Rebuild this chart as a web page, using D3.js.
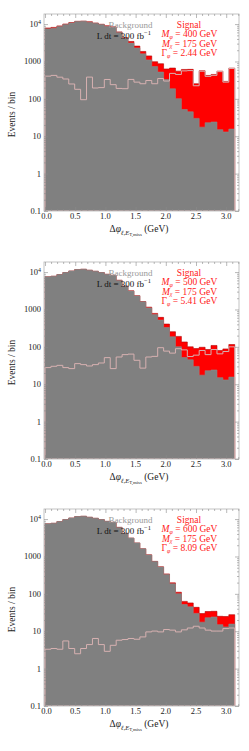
<!DOCTYPE html>
<html><head><meta charset="utf-8">
<script src="https://cdn.jsdelivr.net/npm/d3@7"></script>
<style>body{margin:0;background:#fff}svg{display:block}</style>
</head><body>
<script>
// ---- data (32 bins over 0..pi) ----
const background = [7450, 7730, 8580, 9700, 10700, 11700, 11900, 11200, 10500, 9700, 8700, 8200,
  6000, 4150, 3100, 2300, 1600, 1100, 730, 520, 330, 186, 101, 52, 45, 30, 17.5, 23, 24, 15, 13, 15.5];
const signal400 = [405, 424, 380, 340, 250, 180, 95, 382, 195, 200, 330, 240, 190, 187, 331, 280,
  254, 310, 254, 350, 300, 480, 450, 560, 570, 224, 548, 400, 426, 535, 280, 648];
const signal500 = [27.9, 30.2, 32, 27.9, 26.2, 35.6, 33.5, 30.8, 33.5, 37, 51.5, 26.2, 53.5, 62, 64, 43.7,
  27, 53.5, 55.6, 95, 77, 68, 89.5, 83, 55, 60, 80, 62, 85, 65, 75, 100];
const signal600 = [3.3, 3.45, 3.3, 5.5, 3.45, 2.5, 3.45, 4.4, 6.4, 4.4, 2.9, 4.2, 5.75, 6.0, 6.4, 6.1,
  7.05, 9.6, 10.1, 9.6, 11.1, 10.7, 9.6, 10.9, 12.2, 13.6, 12.2, 10.7, 10.1, 10.1, 11.8, 12.2];
const signals = [signal400, signal500, signal600];
const massPhi = ["400", "500", "600"];
const massChi = ["175", "175", "175"];
const widthPhi = ["2.44", "5.41", "8.09"];
const xTickValues = [0, 0.5, 1, 1.5, 2, 2.5, 3];
const xTickLabels = ["0.0", "0.5", "1.0", "1.5", "2.0", "2.5", "3.0"];
const yTickValues = [0.1, 1, 10, 100, 1000, 10000];
const yTickLabels = ["0.1", "1", "10", "100", "1000", "10^4"];

// ---- layout ----
const W = 249, H = 751;
const offsets = [0, 248, 495];
const L = 44, R = 239, T = 14, B = 211;
const serif = "'Liberation Serif','Times New Roman',serif";
const nBins = background.length;
const edges = d3.range(nBins + 1).map(i => i * Math.PI / nBins);

const svg = d3.select("body").append("svg").attr("width", W).attr("height", H)
  .style("font-family", serif);

const x = d3.scaleLinear().domain([-0.017, 3.212]).range([L, R]);
const y = d3.scaleLog().domain([0.1, Math.pow(10, 4.27)]).range([B, T]);

const minorY = [];
yTickValues.forEach(d => { for (let k = 2; k <= 9; k++) { const v = d * k; if (v < y.domain()[1]) minorY.push(v); } });
const minorX = d3.range(0, 33).map(i => i / 10).filter(v => Math.abs(v * 2 - Math.round(v * 2)) > 1e-6 && v <= 3.2);

function stepArea(vals) {
  const pts = vals.map((v, i) => [edges[i], v]);
  pts.push([edges[nBins], vals[nBins - 1]]);
  return d3.area().curve(d3.curveStepAfter).x(d => x(d[0])).y0(y(0.1)).y1(d => y(d[1]))(pts);
}
function stepOutline(vals) {
  const pts = [[0, 0.1]];
  vals.forEach((v, i) => pts.push([edges[i], v]));
  pts.push([edges[nBins], vals[nBins - 1]]);
  pts.push([edges[nBins], 0.1]);
  pts.push([0, 0.1]);
  return d3.line().curve(d3.curveStepAfter).x(d => x(d[0])).y(d => y(d[1]))(pts);
}

offsets.forEach((oy, p) => {
  const sig = signals[p];
  const total = background.map((b, i) => b + sig[i]);
  const g = svg.append("g").attr("transform", `translate(0,${oy})`);
  const clipId = "clip" + p;
  g.append("clipPath").attr("id", clipId).append("rect")
    .attr("x", L).attr("y", T).attr("width", R - L).attr("height", B - T);
  const pg = g.append("g").attr("clip-path", `url(#${clipId})`);

  pg.append("path").attr("d", stepArea(total)).attr("fill", "#ff0000")
    .attr("stroke", "#b00000").attr("stroke-width", 0.6);
  pg.append("path").attr("d", stepArea(background)).attr("fill", "#808080")
    .attr("stroke", "#8c8c8c").attr("stroke-width", 0.6);
  pg.append("path").attr("d", stepOutline(sig)).attr("fill", "none")
    .attr("stroke", "#d6b0b0").attr("stroke-width", 1);

  // frame
  g.append("rect").attr("x", L).attr("y", T).attr("width", R - L).attr("height", B - T)
    .attr("fill", "none").attr("stroke", "#b4b4b4").attr("stroke-width", 0.8);

  // ticks (inward) via d3 axes
  const tickStyle = sel => { sel.select(".domain").remove(); sel.selectAll("line").attr("stroke", "#8a8a8a").attr("stroke-width", 0.6); sel.selectAll("text").remove(); };
  g.append("g").attr("transform", `translate(${L},0)`).call(d3.axisRight(y).tickValues(yTickValues).tickSize(4)).call(tickStyle);
  g.append("g").attr("transform", `translate(${L},0)`).call(d3.axisRight(y).tickValues(minorY).tickSize(2)).call(tickStyle);
  g.append("g").attr("transform", `translate(${R},0)`).call(d3.axisLeft(y).tickValues(yTickValues).tickSize(4)).call(tickStyle);
  g.append("g").attr("transform", `translate(${R},0)`).call(d3.axisLeft(y).tickValues(minorY).tickSize(2)).call(tickStyle);
  g.append("g").attr("transform", `translate(0,${B})`).call(d3.axisTop(x).tickValues(xTickValues).tickSize(4)).call(tickStyle);
  g.append("g").attr("transform", `translate(0,${B})`).call(d3.axisTop(x).tickValues(minorX).tickSize(2)).call(tickStyle);
  g.append("g").attr("transform", `translate(0,${T})`).call(d3.axisBottom(x).tickValues(xTickValues).tickSize(4)).call(tickStyle);
  g.append("g").attr("transform", `translate(0,${T})`).call(d3.axisBottom(x).tickValues(minorX).tickSize(2)).call(tickStyle);

  // y tick labels
  yTickValues.forEach((v, i) => {
    const t = g.append("text").attr("x", L - 3).attr("y", y(v) + 3).attr("text-anchor", "end")
      .attr("font-size", 8.5).attr("fill", "#222");
    const lab = yTickLabels[i];
    if (lab.includes("^")) {
      const [b, e] = lab.split("^");
      t.append("tspan").text(b);
      t.append("tspan").attr("dy", -3.5).attr("font-size", 6).text(e);
    } else t.text(lab);
  });
  // x tick labels
  xTickValues.forEach((v, i) => {
    g.append("text").attr("x", x(v) + (i === 0 ? 1.5 : 0)).attr("y", B + 8).attr("text-anchor", "middle")
      .attr("font-size", 8.5).attr("fill", "#222").text(xTickLabels[i]);
  });

  // axis titles
  g.append("text").attr("transform", `translate(15,${(T + B) / 2 + 2}) rotate(-90)`)
    .attr("text-anchor", "middle").attr("font-size", 9.5).attr("fill", "#222").text("Events / bin");
  const xt = g.append("text").attr("x", 139).attr("y", B + 21).attr("text-anchor", "middle")
    .attr("font-size", 9.5).attr("fill", "#222");
  xt.append("tspan").text("Δ");
  xt.append("tspan").attr("font-style", "italic").text("φ");
  xt.append("tspan").attr("font-size", 6.5).attr("dy", 2.5).attr("font-style", "italic").text("ℓ,E");
  xt.append("tspan").attr("font-size", 4.8).attr("dy", 1.5).text("T,miss");
  xt.append("tspan").attr("dy", -4).text(" (GeV)");

  // legend texts
  g.append("text").attr("x", 130.5).attr("y", 28).attr("text-anchor", "middle")
    .attr("font-size", 9).attr("fill", "#9a9a9a").text("Background");
  const lt = g.append("text").attr("x", 151).attr("y", 38.5).attr("text-anchor", "end")
    .attr("font-size", 9).attr("fill", "#111");
  lt.append("tspan").text("L dt = 300 fb");
  lt.append("tspan").attr("font-size", 6.5).attr("dy", -3.5).text("−1");

  const red = "#ff2020";
  g.append("text").attr("x", 189).attr("y", 28).attr("text-anchor", "middle")
    .attr("font-size", 9.5).attr("fill", red).text("Signal");
  const lines = [["M", "φ", " = " + massPhi[p] + " GeV", 37.3], ["M", "χ", " = " + massChi[p] + " GeV", 46.5], ["Γ", "φ", " = " + widthPhi[p] + " GeV", 56]];
  lines.forEach(([a, s, rest, yy]) => {
    const t = g.append("text").attr("x", 189.5).attr("y", yy).attr("text-anchor", "middle")
      .attr("font-size", 9.5).attr("fill", red);
    t.append("tspan").attr("font-style", a === "M" ? "italic" : "normal").text(a);
    t.append("tspan").attr("font-size", 6).attr("dy", 1.5).attr("font-style", "italic").text(s);
    t.append("tspan").attr("dy", -1.5).text(rest);
  });
});
</script>
</body></html>
